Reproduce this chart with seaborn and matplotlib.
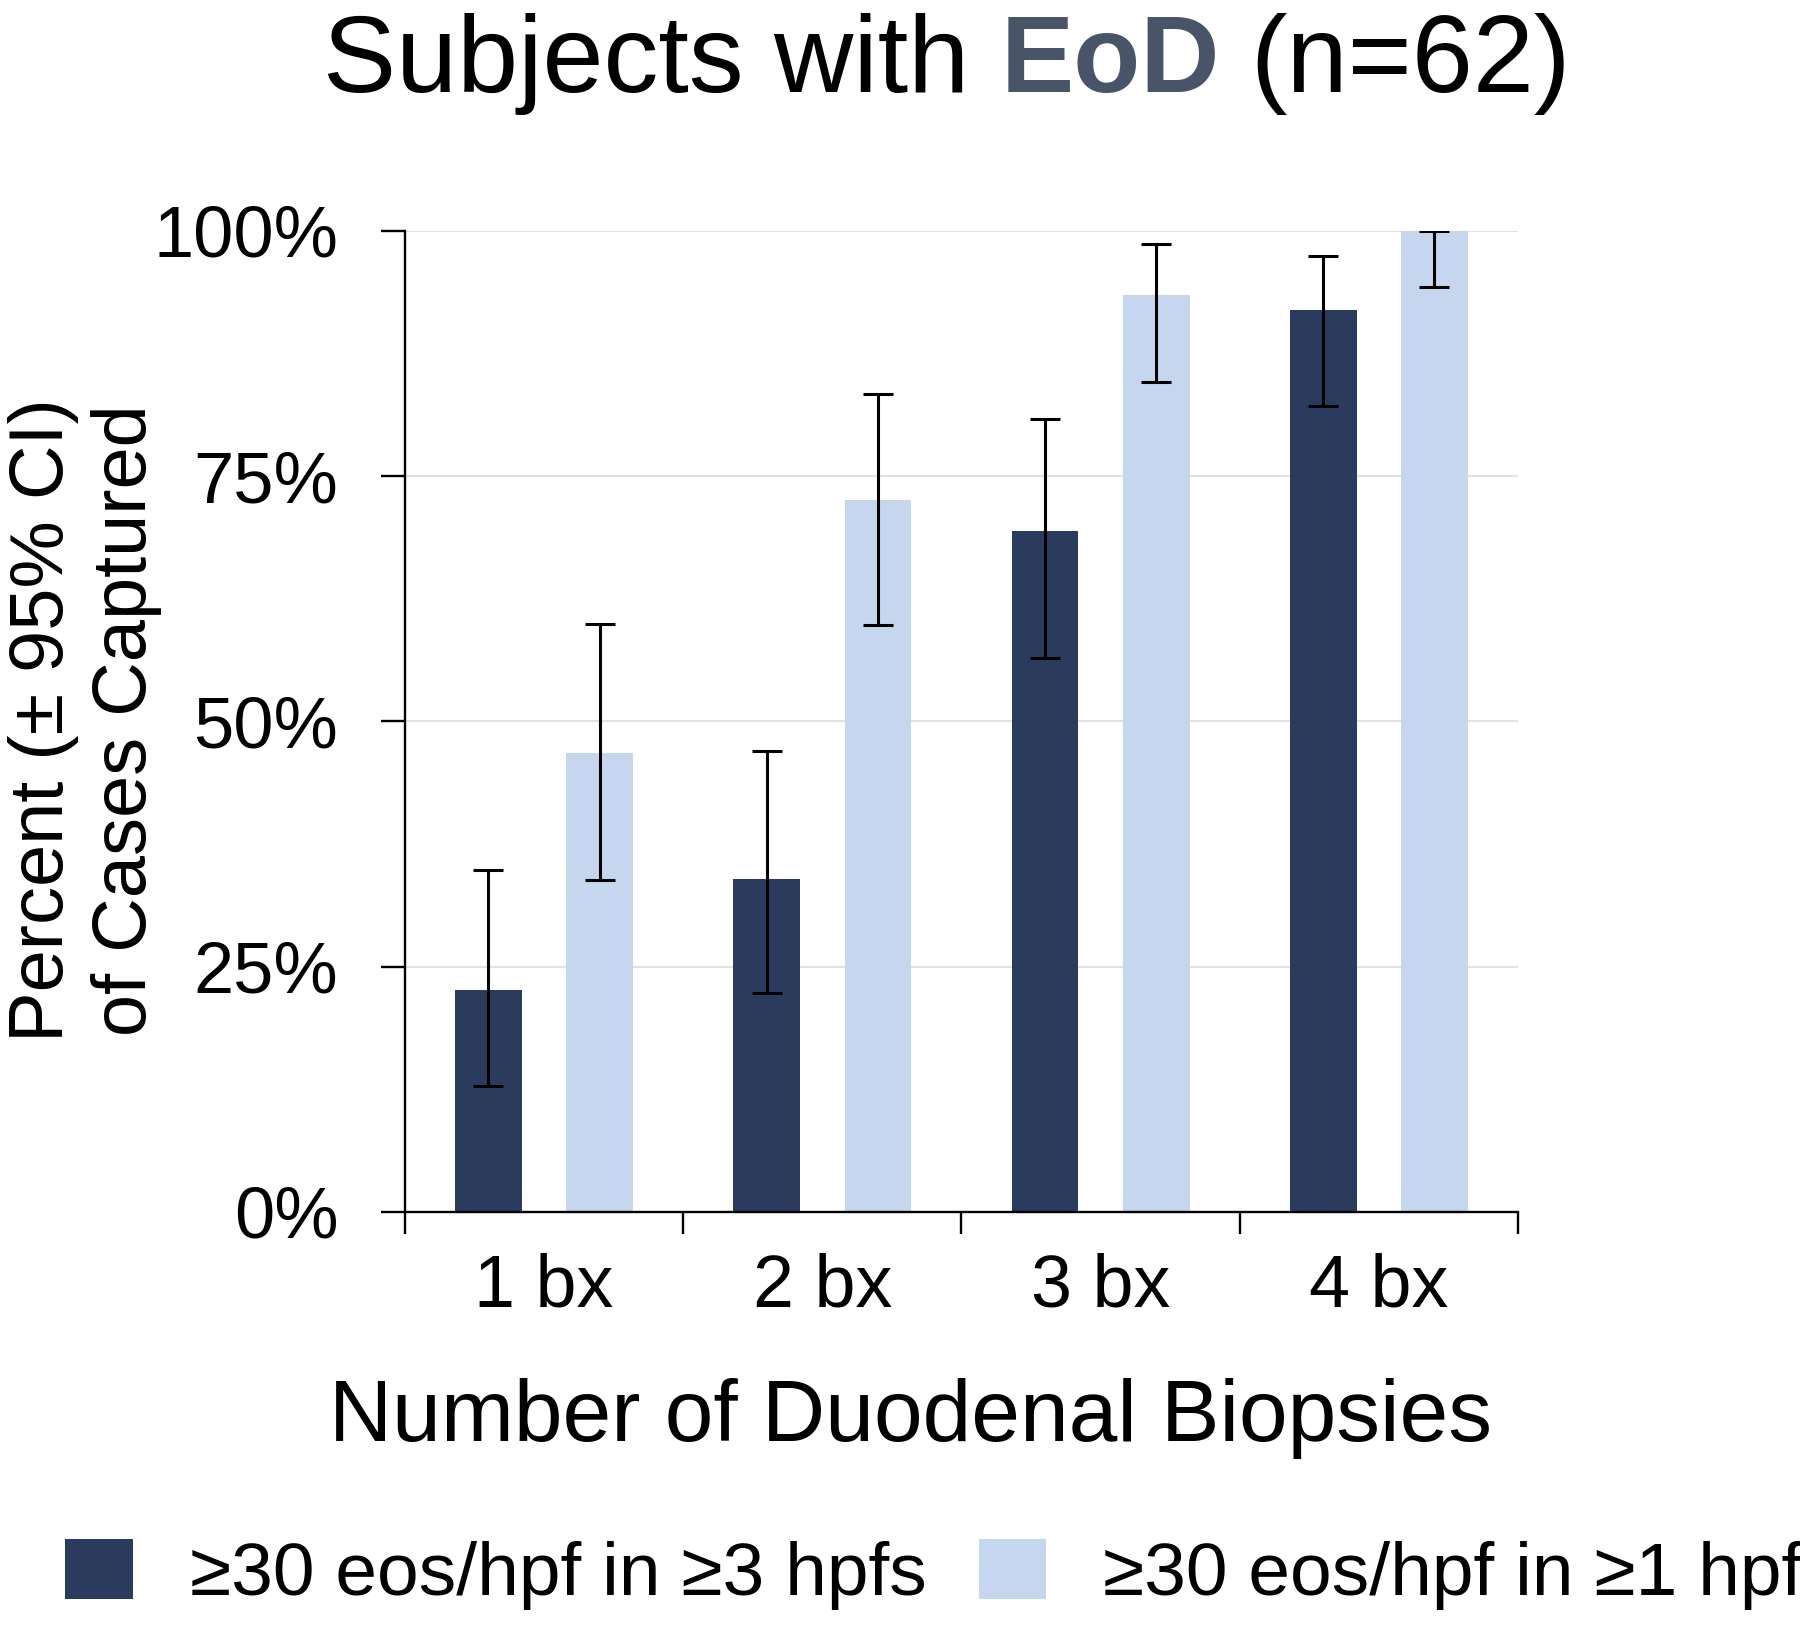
import numpy as np
import pandas as pd
import seaborn as sns
import matplotlib.pyplot as plt
from matplotlib.ticker import PercentFormatter, FixedLocator

# values (n=62)
biopsies = ["1 bx", "2 bx", "3 bx", "4 bx"]
criteria = ["≥30 eos/hpf in ≥3 hpfs", "≥30 eos/hpf in ≥1 hpf"]
pct_3hpf = [22.6, 33.9, 69.4, 91.9]
lo_3hpf = [12.8, 22.3, 56.5, 82.2]
hi_3hpf = [34.9, 47.0, 80.8, 97.4]
pct_1hpf = [46.8, 72.6, 93.5, 100.0]
lo_1hpf = [33.8, 59.8, 84.6, 94.3]
hi_1hpf = [59.9, 83.4, 98.7, 100.0]

dark = "#2b3b5e"
light = "#c6d6ee"

df = pd.DataFrame({
    "bx": biopsies * 2,
    "crit": [criteria[0]] * 4 + [criteria[1]] * 4,
    "pct": pct_3hpf + pct_1hpf,
})
lows = [lo_3hpf, lo_1hpf]
highs = [hi_3hpf, hi_1hpf]

sns.set_style("white")
plt.rcParams["font.family"] = ["Liberation Sans", "DejaVu Sans"]
plt.rcParams["text.color"] = "black"
plt.rcParams["xtick.color"] = "black"
plt.rcParams["ytick.color"] = "black"
plt.rcParams["axes.labelcolor"] = "black"

fig = plt.figure(figsize=(18, 16.3), dpi=100)
ax = fig.add_axes([0.225, 0.2565, 0.6183, 0.6018])

sns.barplot(data=df, x="bx", y="pct", hue="crit", order=biopsies, hue_order=criteria,
            palette={criteria[0]: dark, criteria[1]: light}, width=0.8, gap=0.4,
            saturation=1, linewidth=0, legend=False, ax=ax)

# asymmetric 95% CI whiskers on each bar
for cont, lo, hi in zip(ax.containers, lows, highs):
    xs = [b.get_x() + b.get_width() / 2 for b in cont]
    ys = [b.get_height() for b in cont]
    err = [np.array(ys) - np.array(lo), np.array(hi) - np.array(ys)]
    ax.errorbar(xs, ys, yerr=err, fmt="none", ecolor="black", elinewidth=2.2,
                capsize=11, capthick=2.2, zorder=5)

ax.set_ylim(0, 100)
ax.set_xlim(-0.5, len(biopsies) - 0.5)
ax.set_yticks([0, 25, 50, 75, 100])
ax.yaxis.set_major_formatter(PercentFormatter(100, decimals=0))
ax.yaxis.grid(True, color="#e2e2e2", lw=1.5)
ax.set_axisbelow(True)
ax.set_xlabel("")
ax.set_ylabel("")

for s in ["top", "right"]:
    ax.spines[s].set_visible(False)
for s in ["left", "bottom"]:
    ax.spines[s].set_color("black")
    ax.spines[s].set_linewidth(1.7)

ax.tick_params(axis="y", which="major", direction="out", length=17, width=1.7,
               color="black", labelsize=52, pad=31, left=True)
ax.tick_params(axis="x", which="major", length=0, labelsize=53, pad=29)
ax.xaxis.set_minor_locator(FixedLocator(np.arange(len(biopsies) + 1) - 0.5))
ax.tick_params(axis="x", which="minor", direction="out", length=16, width=1.7,
               color="black", bottom=True)

fig.text(0.047, 0.558, "Percent (± 95% CI)\nof Cases Captured", rotation=90,
         ha="center", va="center", multialignment="center", fontsize=54.5,
         linespacing=1.22)
fig.text(0.506, 0.116, "Number of Duodenal Biopsies", ha="center", va="baseline",
         fontsize=63)

# title with bold coloured "EoD"
fs = 79
parts = [("Subjects with", "normal", "black"), ("EoD", "bold", "#4a5468"),
         ("(n=62)", "normal", "black")]
fig.canvas.draw()
r = fig.canvas.get_renderer()
space = 0.278 * fs * fig.dpi / 72
texts, x = [], 0.0
for s, w, c in parts:
    t = fig.text(0, 0.9436, s, fontsize=fs, fontweight=w, color=c, va="baseline",
                 ha="left", transform=None)
    wpx = t.get_window_extent(r).width
    texts.append((t, x))
    x += wpx + space
total = x - space
x0 = 947 - total / 2
for t, off in texts:
    t.set_transform(fig.transFigure)
    t.set_x((x0 + off) / fig.bbox.width)

fig.legend(handles=ax.containers, labels=criteria, loc="center left",
           bbox_to_anchor=(65 / 1800, 0.034), frameon=False, ncol=2, fontsize=54,
           handlelength=0.9, handleheight=0.85, handletextpad=0.76,
           columnspacing=0.7, borderpad=0, borderaxespad=0)

fig.savefig("out.png", dpi=100)
